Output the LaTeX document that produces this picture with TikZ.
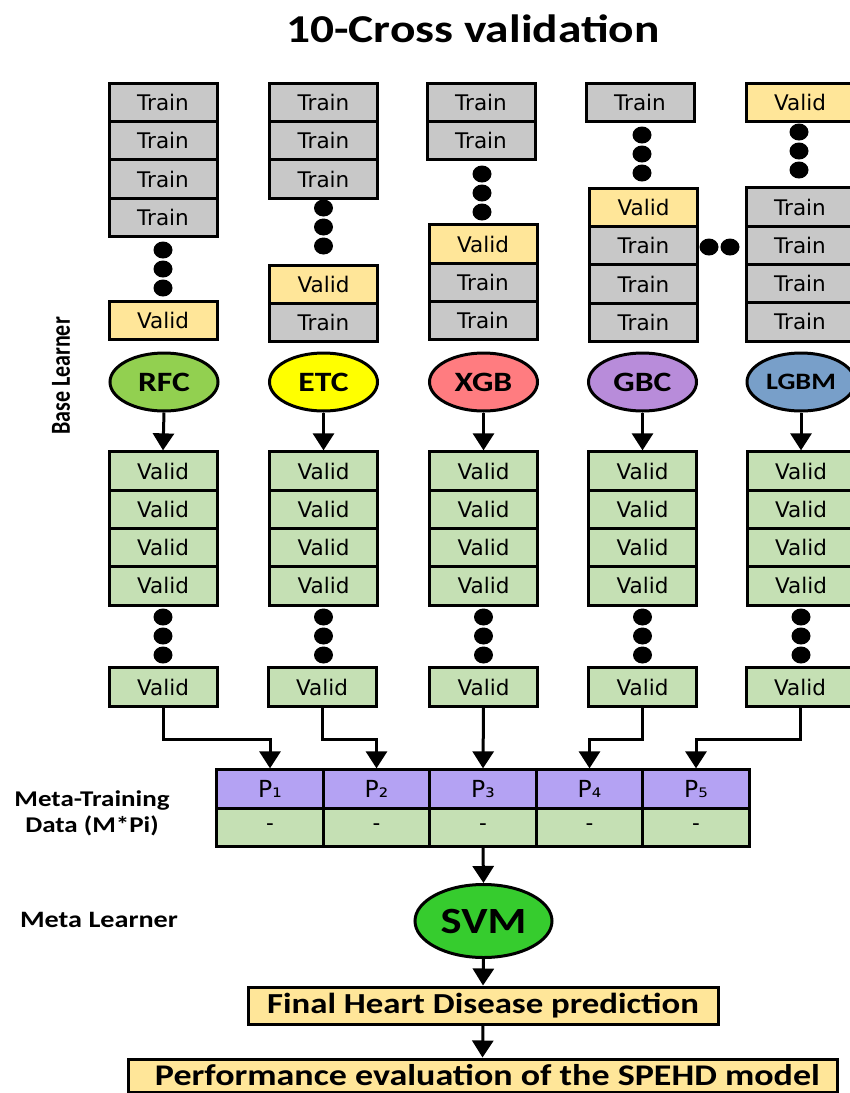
\documentclass[tikz,border=0pt]{standalone}
\usepackage{fontspec}
\setmainfont{DejaVu Sans}
\newfontfamily\hf[FakeStretch=1.2]{Carlito}
\newfontfamily\hfplain{Carlito}
\usetikzlibrary{arrows.meta,shapes.geometric}

\definecolor{traingray}{HTML}{C8C8C8}
\definecolor{validyellow}{HTML}{FFE699}
\definecolor{validgreen}{HTML}{C5E0B4}
\definecolor{metapurple}{HTML}{B4A2F3}
\definecolor{rfccol}{HTML}{92D050}
\definecolor{etccol}{HTML}{FFFF00}
\definecolor{xgbcol}{HTML}{FF7C80}
\definecolor{gbccol}{HTML}{B88CDA}
\definecolor{lgbmcol}{HTML}{789FC9}
\definecolor{svmcol}{HTML}{36CC2E}

\tikzset{
  cell/.style={draw, line width=3pt, minimum width=108pt, minimum height=38.3pt,
    inner sep=0pt, font=\fontsize{21.5}{24}\selectfont},
  train/.style={cell, fill=traingray},
  valid/.style={cell, fill=validyellow},
  gvalid/.style={cell, fill=validgreen},
  pcell/.style={cell, minimum width=106.5pt, fill=metapurple, font=\fontsize{23.5}{26}\selectfont},
  mcell/.style={cell, minimum width=106.5pt, fill=validgreen},
  blob/.style={ellipse, fill=black, minimum width=19pt, minimum height=17pt, inner sep=0pt},
  learner/.style={ellipse, draw, line width=3pt, minimum width=108pt, minimum height=58pt,
    inner sep=0pt, font=\hf\bfseries\fontsize{28}{30}\selectfont},
  resultbox/.style={draw, line width=3pt, fill=validyellow, inner sep=0pt,
    font=\hf\bfseries\fontsize{29}{32}\selectfont},
  label/.style={font=\hf\bfseries\fontsize{22.5}{26}\selectfont, align=center},
  arr/.style={line width=3pt, -{Triangle[width=21pt,length=17pt]}},
}

\begin{document}
\begin{tikzpicture}[x=1pt,y=-1pt]
\useasboundingbox[fill=white] (0,0) rectangle (850,1093);

% title
\node[font=\hf\bfseries\fontsize{39.5}{42}\selectfont] (title) at (473,29) {10-Cross validation};

% fold 1
\foreach \i in {0,...,3} \node[train] (a\i) at (163,102.5+38.3*\i) {Train};
\foreach \i/\y in {1/250,2/269,3/288} \node[blob] (ad\i) at (163,\y) {};
\node[valid] (av) at (163,320.5) {Valid};

% fold 2
\foreach \i in {0,...,2} \node[train] (b\i) at (323.5,102.5+38.3*\i) {Train};
\foreach \i/\y in {1/208,2/227,3/246} \node[blob] (bd\i) at (323.5,\y) {};
\node[valid] (bv) at (323.5,284.5) {Valid};
\node[train] (bt) at (323.5,322.8) {Train};

% fold 3
\foreach \i in {0,...,1} \node[train] (c\i) at (481,102.5+38.3*\i) {Train};
\foreach \i/\y in {1/174,2/193,3/212} \node[blob] (cd\i) at (482,\y) {};
\node[valid] (cv) at (483,244) {Valid};
\node[train] (ct1) at (483,282.3) {Train};
\node[train] (ct2) at (483,320.6) {Train};

% fold 4
\node[train] (d0) at (640,102.5) {Train};
\foreach \i/\y in {1/135,2/154,3/173} \node[blob] (dd\i) at (642,\y) {};
\node[valid] (dv) at (643.5,207.5) {Valid};
\foreach \i in {1,...,3} \node[train] (dt\i) at (643.5,207.5+38.3*\i) {Train};

% horizontal gap marks
\node[blob] (hd1) at (709,247) {};
\node[blob] (hd2) at (730,247) {};

% fold 10
\node[valid] (ev) at (800,102.5) {Valid};
\foreach \i/\y in {1/132,2/151,3/170} \node[blob] (ed\i) at (799,\y) {};
\foreach \i in {0,...,3} \node[train] (et\i) at (800,207+38.3*\i) {Train};

% base learners
\node[learner, fill=rfccol] (rfc) at (164,382) {RFC};
\node[learner, fill=etccol] (etc) at (323.5,382) {ETC};
\node[learner, fill=xgbcol] (xgb) at (483.5,382) {XGB};
\node[learner, fill=gbccol] (gbc) at (642.5,382) {GBC};
\node[learner, fill=lgbmcol, font=\hf\bfseries\fontsize{23.5}{26}\selectfont] (lgbm) at (801,382) {LGBM};

% prediction columns
\foreach \n/\x/\fx in {1/163/163, 2/323.5/322, 3/483.5/483.5, 4/642.5/642.5, 5/801/800} {
  \foreach \i in {0,...,3} \node[gvalid] (g\n r\i) at (\x,471+38.3*\i) {Valid};
  \foreach \j/\y in {1/617,2/636,3/655} \node[blob] (g\n d\j) at (\x,\y) {};
  \node[gvalid] (f\n) at (\fx,687) {Valid};
}

\draw[arr] (rfc.south) -- (g1r0.north);
\draw[arr] (etc.south) -- (g2r0.north);
\draw[arr] (xgb.south) -- (g3r0.north);
\draw[arr] (gbc.south) -- (g4r0.north);
\draw[arr] (lgbm.south) -- (g5r0.north);

% meta-training data table
\foreach \n/\x/\s in {1/270/₁, 2/376.5/₂, 3/483/₃, 4/589.5/₄, 5/696/₅} {
  \node[pcell] (p\n) at (\x,789) {P\s};
  \node[mcell] (m\n) at (\x,827.5) {-};
}

\draw[arr] (f1.south) -- ++(0,32) -| (p1.north);
\draw[arr] (f2.south) -- ++(0,32) -| (p2.north);
\draw[arr] (f3.south) -- (p3.north);
\draw[arr] (f4.south) -- ++(0,32) -| (p4.north);
\draw[arr] (f5.south) -- ++(0,32) -| (p5.north);

% meta learner and results
\node[ellipse, draw, line width=3pt, fill=svmcol, minimum width=137pt, minimum height=73pt,
  inner sep=0pt, font=\hf\bfseries\fontsize{37}{40}\selectfont] (svm) at (483.5,921) {SVM};
\node[resultbox, minimum width=470pt, minimum height=37pt] (final) at (483,1005.5)
  {Final Heart Disease prediction};
\node[resultbox, minimum width=709pt, minimum height=33pt, font=\hf\bfseries\fontsize{30}{32}\selectfont] (perf) at (482.5,1075.5)
  {\hspace*{10pt}Performance evaluation of the SPEHD model};

\draw[arr] (m3.south) -- (svm.north);
\draw[arr] (svm.south) -- (final.north);
\draw[arr] (final.south) -- (perf.north);

% side labels
\node[font=\hfplain\bfseries\fontsize{22}{24}\selectfont, rotate=90] (base) at (61,376)
  {\scalebox{1}[1.25]{Base Learner}};
\node[label] (metadata) at (92,813) {Meta-Training\\Data (M*Pi)};
\node[label, font=\hf\bfseries\fontsize{23.5}{26}\selectfont] (metalearner) at (99,920) {Meta Learner};
\end{tikzpicture}
\end{document}
